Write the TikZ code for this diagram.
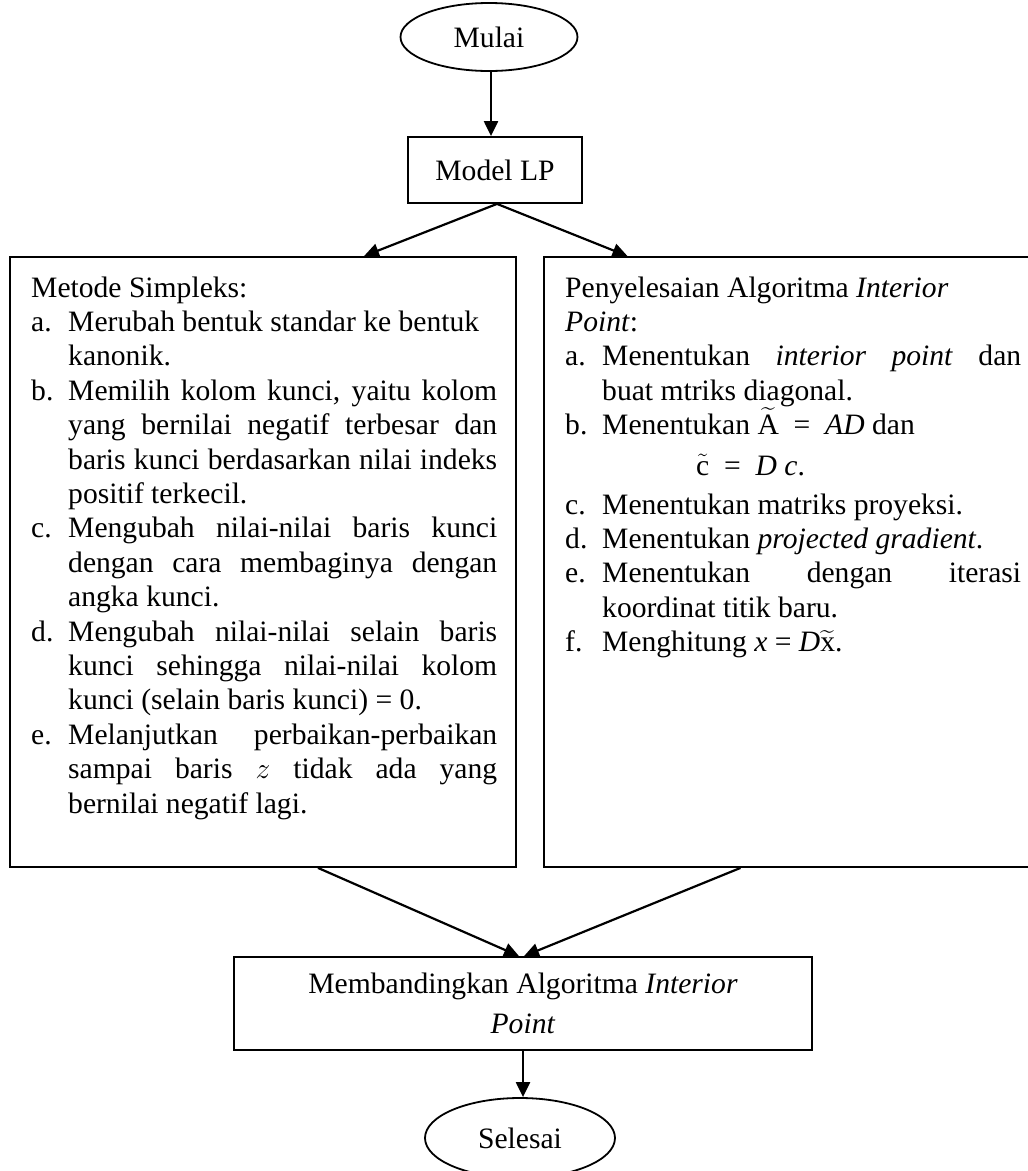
\RequirePackage{fix-cm}
\documentclass[tikz,border=0pt]{standalone}
\usepackage{amsmath}
\usepackage{fontspec}
\setmainfont{Liberation Serif}
\usetikzlibrary{shapes.geometric,arrows.meta}
\newcommand{\fs}{\fontsize{29.6}{34.4}\selectfont}
\newcommand{\itm}[2]{\par\hangindent=37pt\hangafter=1\noindent\makebox[37pt][l]{#1}#2}
\begin{document}
\begin{tikzpicture}[x=1pt,y=-1pt,font=\fs,
  box/.style={draw,line width=1.8pt,rectangle,inner sep=0pt},
  oval/.style={draw,line width=1.8pt,ellipse,inner sep=0pt},
  arr/.style={line width=2.2pt,-{Triangle[length=15pt,width=14pt]}},
  txt/.style={anchor=base west,inner sep=0pt}]
\useasboundingbox (0,0) rectangle (1028,1171);
\clip (0,0) rectangle (1028,1171);

\node[oval,minimum width=177pt,minimum height=68pt] (mulai) at (489,37) {Mulai};
\node[box,minimum width=174pt,minimum height=66pt] (model) at (495,170) {Model LP};
\node[box,minimum width=506pt,minimum height=610pt] (simp) at (263,562) {};
\node[box,minimum width=497pt,minimum height=610pt] (ip) at (792.5,562) {};
\node[box,minimum width=578pt,minimum height=93pt,align=center] (banding) at (523,1003.5)
  {Membandingkan Algoritma \textit{Interior}\\[5pt]\textit{Point}};
\node[oval,minimum width=190pt,minimum height=80pt] (selesai) at (520,1138) {Selesai};

\node[txt] (simptxt) at (31,297) {\begin{minipage}[t]{466pt}
Metode Simpleks:
\itm{a.}{Merubah bentuk standar ke bentuk\newline kanonik.}
\itm{b.}{Memilih kolom kunci, yaitu kolom\linebreak yang bernilai negatif terbesar dan\linebreak baris kunci berdasarkan nilai indeks\linebreak positif terkecil.}
\itm{c.}{Mengubah nilai-nilai baris kunci\linebreak dengan cara membaginya dengan\linebreak angka kunci.}
\itm{d.}{Mengubah nilai-nilai selain baris\linebreak kunci sehingga nilai-nilai kolom\linebreak kunci (selain baris kunci) = 0.}
\itm{e.}{Melanjutkan perbaikan-perbaikan\linebreak sampai baris \(z\) tidak ada yang\linebreak bernilai negatif lagi.}
\end{minipage}};

\node[txt] (iptxt) at (565,297) {\begin{minipage}[t]{456pt}
Penyelesaian Algoritma \textit{Interior}\newline\textit{Point}:
\itm{a.}{Menentukan \textit{interior point} dan\linebreak buat mtriks diagonal.}
\itm{b.}{Menentukan \(\widetilde{\text{A}}\)\enspace=\enspace\textit{AD} dan\vadjust{\vskip 6pt}\newline\hspace*{94pt}\(\tilde{\text{c}}\)\enspace=\enspace\textit{D c}.\vadjust{\vskip 4.6pt}}
\itm{c.}{Menentukan matriks proyeksi.}
\itm{d.}{Menentukan \textit{projected gradient}.}
\itm{e.}{Menentukan dengan iterasi\linebreak koordinat titik baru.}
\itm{f.}{Menghitung \textit{x} = \textit{D}\(\widetilde{\text{x}}\).}
\end{minipage}};

\draw[arr] ([xshift=2pt]mulai.south) -- ([xshift=2pt]mulai.south |- model.north);
\draw[arr] ([xshift=2pt]model.south) -- ([xshift=101pt]simp.north);
\draw[arr] ([xshift=2pt]model.south) -- ([xshift=-165pt]ip.north);
\draw[arr] ([xshift=55pt]simp.south) -- ([xshift=-4pt]banding.north);
\draw[arr] ([xshift=-52pt]ip.south) -- ([xshift=1pt]banding.north);
\draw[arr] (banding.south) -- (banding.south |- selesai.north);
\end{tikzpicture}
\end{document}
